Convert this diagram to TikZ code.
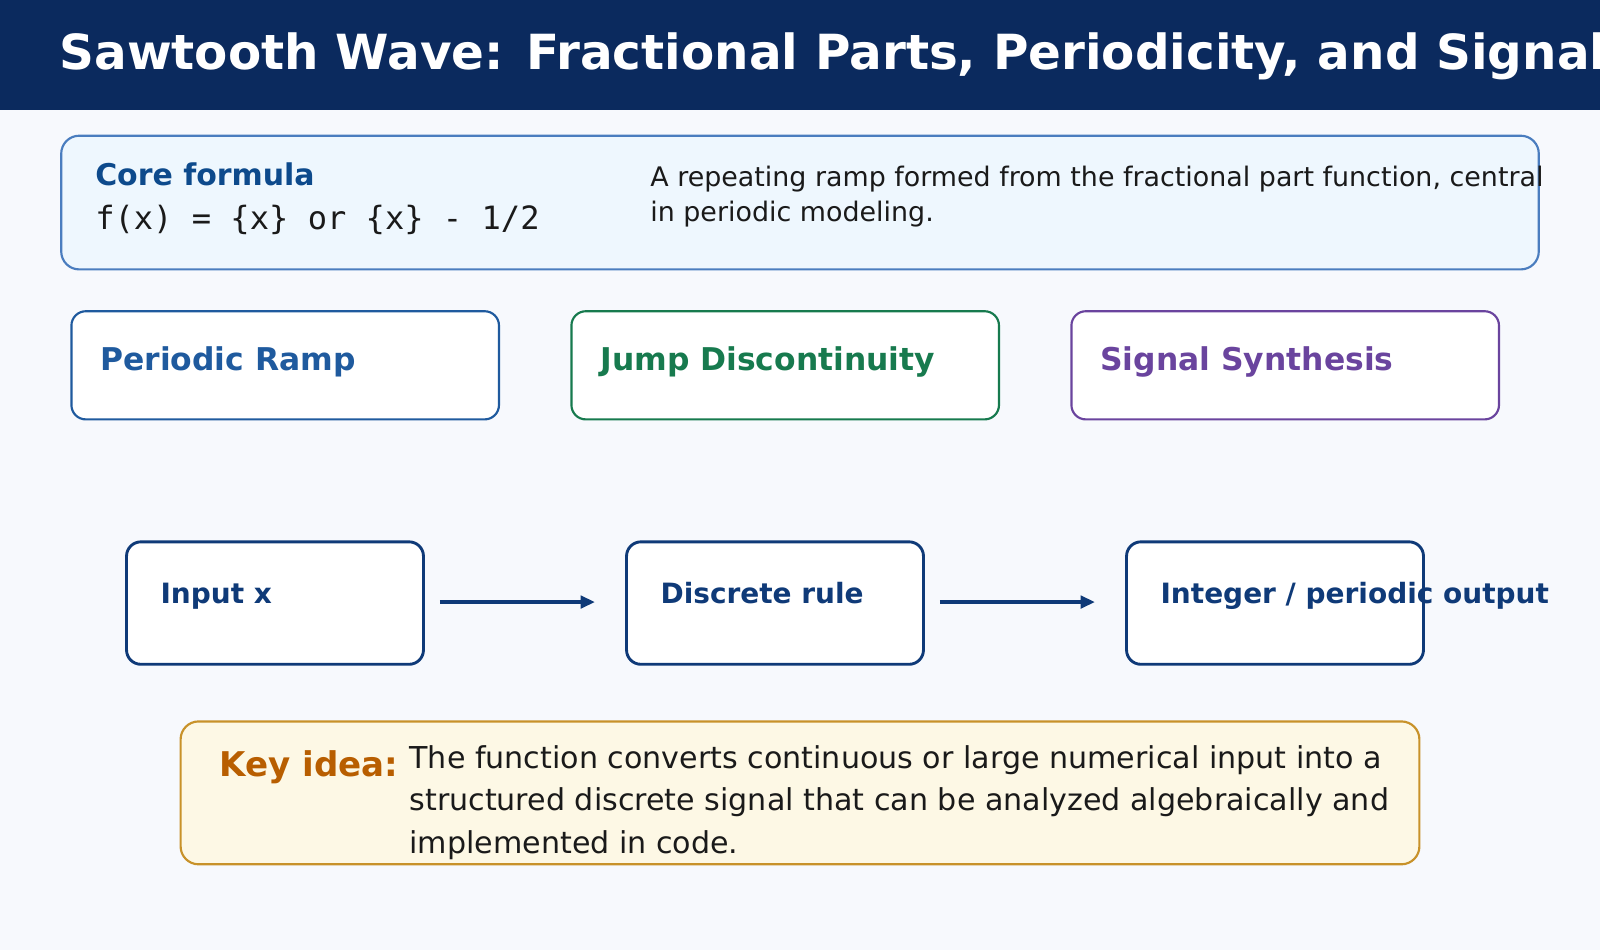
\documentclass[tikz,border=0pt]{standalone}
\usepackage{fontspec}
\setmainfont{DejaVu Sans}
\newfontfamily\monofont{DejaVu Sans Mono}
\usetikzlibrary{positioning, arrows.meta}
\definecolor{pagebg}{HTML}{F7F9FD}
\definecolor{titlebg}{HTML}{0B2A5E}
\definecolor{coreblue}{HTML}{4A7DBF}
\definecolor{corefill}{HTML}{EEF7FE}
\definecolor{headblue}{HTML}{0D4A8C}
\definecolor{rampblue}{HTML}{1F5A9E}
\definecolor{jumpgreen}{HTML}{177A4E}
\definecolor{synthpurple}{HTML}{6A449E}
\definecolor{flowblue}{HTML}{0F3A78}
\definecolor{keyfill}{HTML}{FDF8E5}
\definecolor{keydraw}{HTML}{C8922A}
\definecolor{keyorange}{HTML}{B85E00}
\definecolor{bodytext}{HTML}{1A1A1A}

\begin{document}
\begin{tikzpicture}[x=0.02cm, y=-0.02cm,
    panel/.style={line width=1.2pt, rounded corners=8pt, fill=white},
    flowbox/.style={draw=flowblue, line width=1.6pt, rounded corners=8pt, fill=white},
    paneltitle/.style={anchor=base west, inner sep=0pt, font=\fontsize{17.5}{20}\selectfont\bfseries},
    flowtitle/.style={anchor=base west, inner sep=0pt, text=flowblue, font=\fontsize{15.6}{18}\selectfont\bfseries},
    flowarrow/.style={draw=flowblue, line width=1.8pt, -{Triangle[length=8pt,width=7pt]}},
    body/.style={anchor=north west, align=left, text=bodytext, inner sep=0pt}
]
\useasboundingbox (0,0) rectangle (1568,931);
\fill[pagebg] (0,0) rectangle (1568,931);
% title bar
\fill[titlebg] (0,0) rectangle (1568,108);
\node (title) [anchor=base west, inner sep=0pt, text=white, font=\fontsize{27}{30}\selectfont\bfseries]
    at (58,68) {Sawtooth Wave: Fractional Parts, Periodicity, and Signals};
% core formula
\draw[coreblue, line width=1.2pt, rounded corners=10pt, fill=corefill] (60,133) rectangle (1508,264);
\node (corehead) [anchor=base west, inner sep=0pt, text=headblue, font=\fontsize{16.7}{20}\selectfont\bfseries] at (93,182) {Core formula};
\node (coreformula) [anchor=base west, inner sep=0pt, text=bodytext, font=\fontsize{17.9}{20}\monofont] at (93,225) {f(x) = \{x\} or \{x\} - 1/2};
\node (coretext) [body, font=\fontsize{15}{20}\selectfont] at (637,162)
    {A repeating ramp formed from the fractional part function, central\\in periodic modeling.};
% three panels
\draw[panel, draw=rampblue] (70,305) rectangle (489,411);
\node (ramp) [paneltitle, text=rampblue] at (98,363) {Periodic Ramp};
\draw[panel, draw=jumpgreen] (560,305) rectangle (979,411);
\node (jump) [paneltitle, text=jumpgreen] at (588,363) {Jump Discontinuity};
\draw[panel, draw=synthpurple] (1050,305) rectangle (1469,411);
\node (synth) [paneltitle, text=synthpurple] at (1078,363) {Signal Synthesis};
% flow
\draw[flowbox] (124,531) rectangle (415,651);
\node (input) [flowtitle] at (157,591) {Input x};
\draw[flowbox] (614,531) rectangle (905,651);
\node (rule) [flowtitle] at (647,591) {Discrete rule};
\draw[flowbox] (1104,531) rectangle (1395,651);
\node (output) [flowtitle] at (1137,591) {Integer / periodic output};
\coordinate (a1) at (431,590);
\coordinate (a2) at (583,590);
\coordinate (b1) at (921,590);
\coordinate (b2) at (1073,590);
\draw[flowarrow] (a1) -- (a2);
\draw[flowarrow] (b1) -- (b2);
% key idea
\draw[keydraw, line width=1.2pt, rounded corners=10pt, fill=keyfill] (177,707) rectangle (1391,847);
\node (keylabel) [anchor=base west, inner sep=0pt, text=keyorange, font=\fontsize{19}{22}\selectfont\bfseries] at (215,761) {Key idea:};
\node (keytext) [body, font=\fontsize{16.8}{23.8}\selectfont] at (401,730)
    {The function converts continuous or large numerical input into a\\structured discrete signal that can be analyzed algebraically and\\implemented in code.};
\end{tikzpicture}
\end{document}
